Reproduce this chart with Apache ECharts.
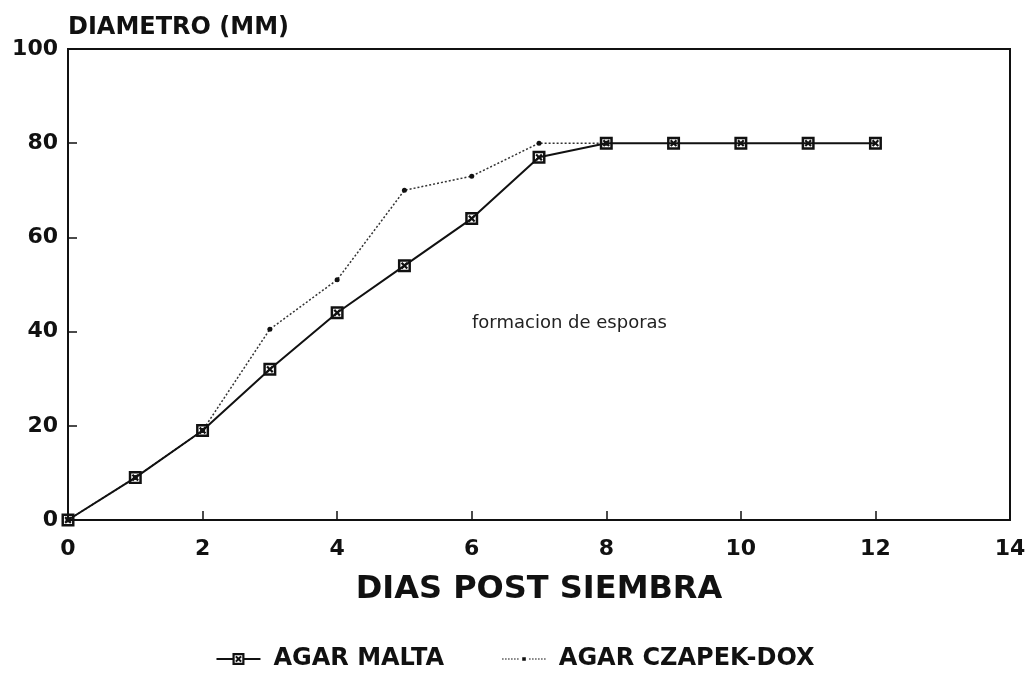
<!DOCTYPE html>
<html>
<head>
<meta charset="utf-8">
<script src="https://cdn.jsdelivr.net/npm/echarts@6/dist/echarts.min.js"></script>
<style>
  html, body { margin: 0; padding: 0; background: #fff; }
  #chart { width: 1031px; height: 682px; }
</style>
</head>
<body>
<div id="chart"></div>
<script>
// datos
var dias = [0, 1, 2, 3, 4, 5, 6, 7, 8, 9, 10, 11, 12];
var agarMalta = [0, 9, 19, 32, 44, 54, 64, 77, 80, 80, 80, 80, 80];
var diasCzapek = [0, 1, 2, 3, 4, 5, 6, 7, 8];
var agarCzapek = [0, 9, 19, 40.5, 51, 70, 73, 80, 80];
var yTicks = [0, 20, 40, 60, 80, 100];
var xTicks = [0, 2, 4, 6, 8, 10, 12, 14];

var FONT = '"DejaVu Sans", sans-serif';

// cuadrado con aspa (marcador)
var boxSymbol = 'path://M0,0 L10,0 L10,10 L0,10 Z M1.9,1.9 L1.9,8.1 L8.1,8.1 L8.1,1.9 Z M2.2,3.4 L3.4,2.2 L5,3.8 L6.6,2.2 L7.8,3.4 L6.2,5 L7.8,6.6 L6.6,7.8 L5,6.2 L3.4,7.8 L2.2,6.6 L3.8,5 Z';

// iconos de la leyenda (44 x 12)
var iconMalta = 'path://M0,5 L16,5 L16,7 L0,7 Z M28,5 L44,5 L44,7 L28,7 Z ' +
  'M16,0 L28,0 L28,12 L16,12 Z M18.2,2.2 L18.2,9.8 L25.8,9.8 L25.8,2.2 Z ' +
  'M18.64,4.08 L20.08,2.64 L22,4.56 L23.92,2.64 L25.36,4.08 L23.44,6 L25.36,7.92 L23.92,9.36 L22,7.44 L20.08,9.36 L18.64,7.92 L20.56,6 Z';
var iconCzapek = (function () {
  var p = 'path://M0,0 L0.01,0 L0.01,0.01 Z M0,12 L0.01,12 L0.01,11.99 Z ';
  for (var x = 0; x < 44; x += 3) {
    if (x > 17 && x < 26) continue;
    p += 'M' + x + ',5.4 L' + (x + 1.6) + ',5.4 L' + (x + 1.6) + ',6.6 L' + x + ',6.6 Z ';
  }
  p += 'M20.2,4.2 L23.8,4.2 L23.8,7.8 L20.2,7.8 Z';
  return p;
})();

function pares(xs, ys) {
  return xs.map(function (x, i) { return [x, ys[i]]; });
}

var myChart = echarts.init(document.getElementById('chart'));
var option = {
  backgroundColor: '#fff',
  animation: false,
  grid: {
    left: 68, right: 21, top: 49, bottom: 162,
    show: true, borderColor: '#111', borderWidth: 2
  },
  xAxis: {
    type: 'value',
    min: 0, max: 14, interval: 2,
    name: 'DIAS POST SIEMBRA',
    nameLocation: 'middle',
    nameGap: 54,
    nameTextStyle: { fontFamily: FONT, fontSize: 32, fontWeight: 'bold', color: '#111' },
    axisLine: { show: true, lineStyle: { color: '#111', width: 2 } },
    axisTick: { show: true, inside: true, length: 9, lineStyle: { color: '#111', width: 1.5 } },
    axisLabel: {
      margin: 18, fontFamily: FONT, fontSize: 22, fontWeight: 'bold', color: '#111',
      formatter: function (v) { return xTicks.indexOf(v) >= 0 ? String(v) : ''; }
    },
    splitLine: { show: false }
  },
  yAxis: {
    type: 'value',
    min: 0, max: 100, interval: 20,
    axisLine: { show: true, lineStyle: { color: '#111', width: 2 } },
    axisTick: { show: true, inside: true, length: 9, lineStyle: { color: '#111', width: 1.5 } },
    axisLabel: {
      margin: 10, fontFamily: FONT, fontSize: 22, fontWeight: 'bold', color: '#111',
      formatter: function (v) { return yTicks.indexOf(v) >= 0 ? String(v) : ''; }
    },
    splitLine: { show: false }
  },
  legend: {
    bottom: 6,
    left: 'center',
    itemWidth: 46,
    itemHeight: 12,
    itemGap: 58,
    textStyle: { fontFamily: FONT, fontSize: 24, fontWeight: 'bold', color: '#111', padding: [0, 0, 0, 7] },
    data: [
      { name: 'AGAR MALTA', icon: iconMalta },
      { name: 'AGAR CZAPEK-DOX', icon: iconCzapek }
    ]
  },
  graphic: [
    {
      type: 'text', left: 68, top: 16,
      style: { text: 'DIAMETRO (MM)', fontFamily: FONT, fontSize: 24, fontWeight: 'bold', fill: '#111' }
    },
    {
      type: 'text', left: 472, top: 314,
      style: { text: 'formacion de esporas', fontFamily: FONT, fontSize: 18, fill: '#222' }
    }
  ],
  series: [
    {
      name: 'AGAR CZAPEK-DOX',
      type: 'line',
      data: pares(diasCzapek, agarCzapek),
      symbol: 'circle',
      symbolSize: 5,
      itemStyle: { color: '#111' },
      lineStyle: { color: '#333', width: 1.5, type: [2, 2] },
      z: 2
    },
    {
      name: 'AGAR MALTA',
      type: 'line',
      data: pares(dias, agarMalta),
      symbol: boxSymbol,
      symbolSize: 13,
      symbolKeepAspect: true,
      itemStyle: { color: '#111' },
      lineStyle: { color: '#111', width: 2 },
      z: 3
    }
  ]
};

if (option && typeof option === "object") {
  myChart.setOption(option, true);
}
</script>
</body>
</html>
